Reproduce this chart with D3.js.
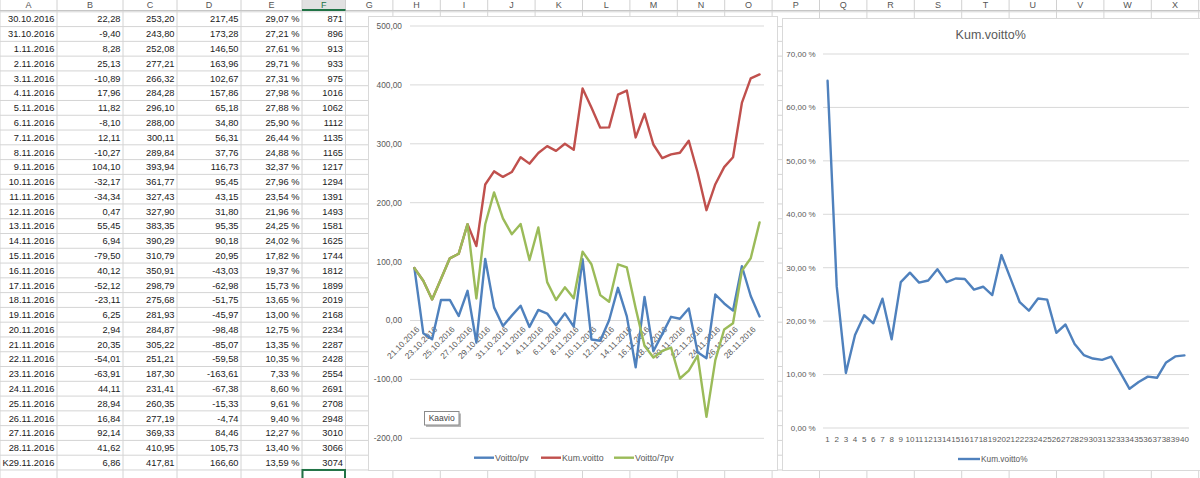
<!DOCTYPE html>
<html><head><meta charset="utf-8">
<script src="https://cdn.jsdelivr.net/npm/d3@7/dist/d3.min.js"></script>
<style>
body{margin:0;background:#fff;overflow:hidden}
svg{display:block;font-family:"Liberation Sans",Arial,sans-serif}
</style></head><body>
<svg id="c" width="1200" height="478"></svg>
<script>
// ---------------- DATA ----------------
const dates = ["21.10.2016","22.10.2016","23.10.2016","24.10.2016","25.10.2016","26.10.2016","27.10.2016","28.10.2016","29.10.2016","30.10.2016",
  "31.10.2016","1.11.2016","2.11.2016","3.11.2016","4.11.2016","5.11.2016","6.11.2016","7.11.2016","8.11.2016","9.11.2016",
  "10.11.2016","11.11.2016","12.11.2016","13.11.2016","14.11.2016","15.11.2016","16.11.2016","17.11.2016","18.11.2016","19.11.2016",
  "20.11.2016","21.11.2016","22.11.2016","23.11.2016","24.11.2016","25.11.2016","26.11.2016","27.11.2016","28.11.2016","29.11.2016"];
const voittoPv = [89.00,-21.50,-31.75,34.77,35.06,7.67,50.40,-37.23,104.50,22.28,
  -9.40,8.28,25.13,-10.89,17.96,11.82,-8.10,12.11,-10.27,104.10,
  -32.17,-34.34,0.47,55.45,6.94,-79.50,40.12,-52.12,-23.11,6.25,
  2.94,20.35,-54.01,-63.91,44.11,28.94,16.84,92.14,41.62,6.86];
const kumVoitto = [89.00,67.50,35.75,70.52,105.58,113.25,163.65,126.42,230.92,253.20,
  243.80,252.08,277.21,266.32,284.28,296.10,288.00,300.11,289.84,393.94,
  361.77,327.43,327.90,383.35,390.29,310.79,350.91,298.79,275.68,281.93,
  284.87,305.22,251.21,187.30,231.41,260.35,277.19,369.33,410.95,417.81];
const voitto7pv = [89.00,67.50,35.75,70.52,105.58,113.25,163.65,37.42,163.42,217.45,
  173.28,146.50,163.96,102.67,157.86,65.18,34.80,56.31,37.76,116.73,
  95.45,43.15,31.80,95.35,90.18,20.95,-43.03,-62.98,-51.75,-45.97,
  -98.48,-85.07,-59.58,-163.61,-67.38,-15.33,-4.74,84.46,105.73,166.60];
const kumVoittoPct = [65.0,26.5,10.3,17.4,21.1,19.6,24.2,16.6,27.3,29.07,
  27.21,27.61,29.71,27.31,27.98,27.88,25.90,26.44,24.88,32.37,
  27.96,23.54,21.96,24.25,24.02,17.82,19.37,15.73,13.65,13.00,
  12.75,13.35,10.35,7.33,8.60,9.61,9.40,12.27,13.40,13.59];
const panos = [871,896,913,933,975,1016,1062,1112,1135,1165,1217,1294,1391,1493,1581,1625,
  1744,1812,1899,2019,2168,2234,2287,2428,2554,2691,2708,2948,3010,3066,3074];
const dayNumbers = [1,2,3,4,5,6,7,8,9,10,11,12,13,14,15,16,17,18,19,20,
  21,22,23,24,25,26,27,28,29,30,31,32,33,34,35,36,37,38,39,40];
const yTicks1 = [-200,-100,0,100,200,300,400,500];
const yTicks2 = [0,10,20,30,40,50,60,70];
const columnLetters = ["A","B","C","D","E","F","G","H","I","J","K","L","M","N","O","P","Q","R","S","T","U","V","W","X"];
const lastDateText = "K29.11.2016";
const seriesNames = ["Voitto/pv","Kum.voitto","Voitto/7pv"];
const chart2Title = "Kum.voitto%";

// ---------------- RENDER ----------------
const loc = d3.formatLocale({decimal:",",thousands:"\u00a0",grouping:[3],currency:["","€"],minus:"-"});
const f2 = loc.format(".2f");
const svg = d3.select("#c");
const gridC = "#d4d4d4";

// column edges
const colEdges = [0,57,123,177,241,302,345.5];
for (let i=1;i<=18;i++) colEdges.push(345.5+47.4*i);
const headerH = 10.5, rowTop0 = 11.8, rowH = 14.78;
const nRows = 32;

// grid
const grid = svg.append("g");
for (let r=0;r<=nRows;r++){
  const y = rowTop0 + r*rowH;
  grid.append("line").attr("x1",0).attr("x2",1200).attr("y1",y).attr("y2",y).attr("stroke",gridC).attr("stroke-width",1);
}
colEdges.forEach(x=>{
  grid.append("line").attr("x1",x).attr("x2",x).attr("y1",0).attr("y2",478).attr("stroke",gridC).attr("stroke-width",1);
});
// header
const hdr = svg.append("g");
hdr.append("rect").attr("x",0).attr("y",0).attr("width",1200).attr("height",headerH).attr("fill","#fff");
hdr.append("rect").attr("x",colEdges[5]).attr("y",0).attr("width",colEdges[6]-colEdges[5]).attr("height",headerH).attr("fill","#e1e1e1");
colEdges.forEach(x=>{
  hdr.append("line").attr("x1",x).attr("x2",x).attr("y1",0).attr("y2",headerH).attr("stroke","#d0d0d0");
});
hdr.append("line").attr("x1",0).attr("x2",1200).attr("y1",headerH).attr("y2",headerH).attr("stroke","#c6c6c6");
hdr.append("line").attr("x1",colEdges[5]).attr("x2",colEdges[6]).attr("y1",headerH-0.5).attr("y2",headerH-0.5).attr("stroke","#217346").attr("stroke-width",2);
columnLetters.forEach((l,i)=>{
  if (i+1>=colEdges.length) return;
  hdr.append("text").attr("x",(colEdges[i]+colEdges[i+1])/2).attr("y",8.2)
    .attr("text-anchor","middle").attr("font-size","9px").attr("fill",i===5?"#217346":"#555").text(l);
});

// table
const tbl = svg.append("g").attr("font-size","9.3px").attr("fill","#1a1a1a").attr("text-anchor","end");
for (let k=0;k<31;k++){
  const i = k+9;
  const y = rowTop0 + k*rowH + rowH/2 + 3.3;
  const cells = [
    k===30 ? lastDateText : dates[i],
    f2(voittoPv[i]), f2(kumVoitto[i]), f2(voitto7pv[i]), f2(kumVoittoPct[i])+" %", String(panos[k])
  ];
  cells.forEach((t,c)=>{
    tbl.append("text").attr("x",colEdges[c+1]-2.5).attr("y",y).text(t);
  });
}
// selected cell
svg.append("rect").attr("x",colEdges[5]+0.5).attr("y",rowTop0+31*rowH).attr("width",colEdges[6]-colEdges[5]-1)
  .attr("height",20).attr("fill","none").attr("stroke","#217346").attr("stroke-width",2);

// ---------- Chart 1 ----------
const c1 = svg.append("g");
c1.append("rect").attr("x",368.5).attr("y",16.5).attr("width",409).attr("height",454).attr("fill","#fff").attr("stroke","#d9d9d9");
const x1 = d3.scalePoint().domain(dates).range([410,764]).padding(0.5);
const y1 = d3.scaleLinear().domain([-200,500]).range([438.3,26]);
yTicks1.forEach(t=>{
  c1.append("line").attr("x1",410).attr("x2",764).attr("y1",y1(t)).attr("y2",y1(t)).attr("stroke","#d9d9d9");
  c1.append("text").attr("x",402).attr("y",y1(t)).attr("dy","0.35em").attr("text-anchor","end")
    .attr("font-size","8.3px").attr("fill","#595959").text(f2(t));
});
dates.forEach((d,i)=>{
  if (i%2) return;
  c1.append("text").attr("transform",`translate(${x1(d)+3.5},${y1(0)+7.5}) rotate(-45)`)
    .attr("text-anchor","end").attr("dy","0.35em").attr("font-size","8.3px").attr("fill","#595959").text(d);
});
const colors = ["#4f81bd","#c0504d","#9bbb59"];
const series = [voittoPv,kumVoitto,voitto7pv];
series.forEach((s,si)=>{
  const line = d3.line().x((d,i)=>x1(dates[i])).y(d=>y1(d));
  c1.append("path").datum(s).attr("d",line).attr("fill","none").attr("stroke",colors[si])
    .attr("stroke-width",2.4).attr("stroke-linejoin","round").attr("stroke-linecap","round");
});
// legend
const leg1x = [474,541,614];
seriesNames.forEach((n,i)=>{
  c1.append("line").attr("x1",leg1x[i]).attr("x2",leg1x[i]+20).attr("y1",457.7).attr("y2",457.7)
    .attr("stroke",colors[i]).attr("stroke-width",2.4);
  c1.append("text").attr("x",leg1x[i]+21).attr("y",457.7).attr("dy","0.35em").attr("font-size","8.8px").attr("fill","#595959").text(n);
});
// Kaavio tooltip
c1.append("rect").attr("x",426).attr("y",413.5).attr("width",35).attr("height",13.5).attr("fill","#b8b8b8");
c1.append("rect").attr("x",424.5).attr("y",411.5).attr("width",34.5).attr("height",13.5).attr("fill","#fff").attr("stroke","#8a8a8a");
c1.append("text").attr("x",441.7).attr("y",418.3).attr("dy","0.35em").attr("text-anchor","middle").attr("font-size","8.5px").attr("fill","#444").text("Kaavio");

// ---------- Chart 2 ----------
const c2 = svg.append("g");
c2.append("rect").attr("x",782.5).attr("y",18.5).attr("width",430).attr("height",452).attr("fill","#fff").attr("stroke","#d9d9d9");
const x2 = d3.scalePoint().domain(dayNumbers).range([823,1189]).padding(0.5);
const y2 = d3.scaleLinear().domain([0,70]).range([428,54]);
yTicks2.forEach(t=>{
  c2.append("line").attr("x1",823).attr("x2",1189).attr("y1",y2(t)).attr("y2",y2(t)).attr("stroke","#d9d9d9");
  c2.append("text").attr("x",815.7).attr("y",y2(t)).attr("dy","0.35em").attr("text-anchor","end")
    .attr("font-size","8px").attr("fill","#595959").text(f2(t)+" %");
});
c2.append("path").datum(kumVoittoPct).attr("d",d3.line().x((d,i)=>x2(dayNumbers[i])).y(d=>y2(d)))
  .attr("fill","none").attr("stroke","#4f81bd").attr("stroke-width",2.4).attr("stroke-linejoin","round").attr("stroke-linecap","round");
dayNumbers.forEach(n=>{
  c2.append("text").attr("x",x2(n)).attr("y",439.5).attr("dy","0.35em").attr("text-anchor","middle")
    .attr("font-size","8px").attr("fill","#595959").text(n);
});
c2.append("text").attr("x",990.7).attr("y",35).attr("dy","0.35em").attr("text-anchor","middle")
  .attr("font-size","12.5px").attr("fill","#595959").text(chart2Title);
c2.append("line").attr("x1",958).attr("x2",980).attr("y1",459).attr("y2",459).attr("stroke","#4f81bd").attr("stroke-width",2.4);
c2.append("text").attr("x",981).attr("y",459).attr("dy","0.35em").attr("font-size","8.3px").attr("fill","#595959").text(chart2Title);
</script>
</body></html>
